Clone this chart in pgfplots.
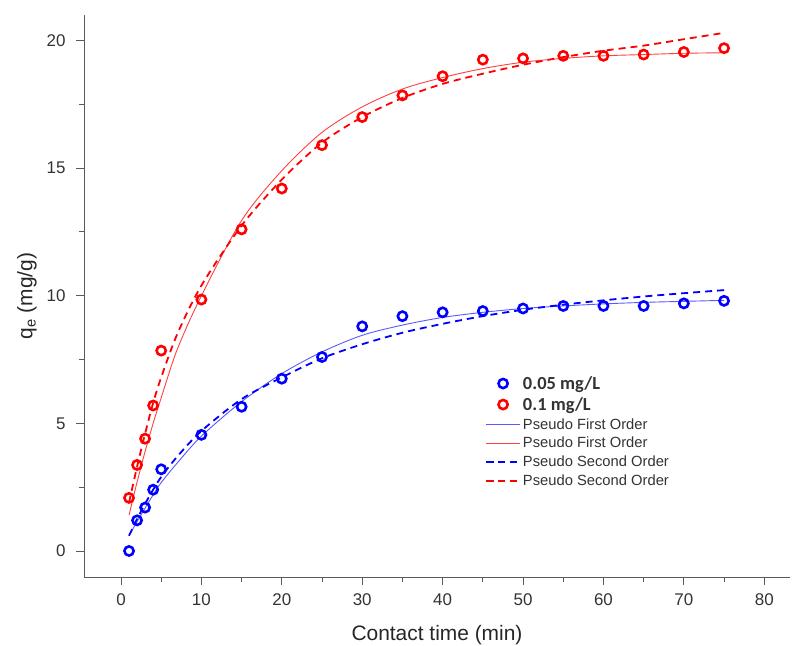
\documentclass[border=0pt]{standalone}
\usepackage{pgfplots}
\pgfplotsset{compat=1.18}
\usepackage{fontspec}
\setmainfont{Liberation Sans}
\newfontfamily\calib{Carlito}
\definecolor{pblue}{RGB}{0,0,255}
\definecolor{pred}{RGB}{255,0,0}
\begin{document}
\begin{tikzpicture}
\begin{axis}[
  name=ax,
  scale only axis, width=706bp, height=562bp,
  xmin=-4.6, xmax=83.2, ymin=-1.02, ymax=21.0,
  axis x line*=bottom, axis y line*=left,
  xtick={0,10,...,80}, minor x tick num=1,
  ytick={0,5,...,20}, minor y tick num=1,
  tick align=outside, major tick length=8bp, minor tick length=5bp,
  every tick/.style={black!65, line width=0.9bp},
  axis line style={black!65, line width=0.9bp},
  tick label style={font=\fontsize{17}{20}\selectfont, text=black!80},
  xticklabel style={yshift=-5bp},
  yticklabel style={xshift=-7bp},
  /pgf/number format/assume math mode=true,
  xlabel={Contact time (min)},
  ylabel={q\textsubscript{e} (mg/g)},
  label style={font=\fontsize{21}{24}\selectfont, text=black!85},
  xlabel style={yshift=-13bp},
  ylabel shift=3bp,
  legend style={draw=none, fill=none, inner sep=0pt, at={(0.568,0.361)}, anchor=north west,
    font=\fontsize{14.8}{17}\selectfont, row sep=2.6bp, text=black!80},
  legend cell align=left,
  legend image code/.code={\draw[mark repeat=2,mark phase=2] plot coordinates {(0bp,0bp) (17bp,0bp) (34bp,0bp)};},
  clip=false,
]
% data points
\addplot[only marks, mark=o, mark size=4.6bp, line width=2.6bp, color=pblue] coordinates {
(1,0.0) (2,1.2) (3,1.7) (4,2.4) (5,3.2) (10,4.55) (15,5.65) (20,6.75) (25,7.6) (30,8.8)
(35,9.2) (40,9.35) (45,9.4) (50,9.5) (55,9.6) (60,9.6) (65,9.6) (70,9.7) (75,9.8)};
\addlegendentry{\calib\bfseries\fontsize{18.5}{20}\selectfont 0.05 mg/L}
\addplot[only marks, mark=o, mark size=4.6bp, line width=2.6bp, color=pred] coordinates {
(1,2.08) (2,3.37) (3,4.4) (4,5.7) (5,7.85) (10,9.85) (15,12.6) (20,14.2) (25,15.9) (30,17.0)
(35,17.85) (40,18.6) (45,19.25) (50,19.3) (55,19.4) (60,19.4) (65,19.45) (70,19.55) (75,19.7)};
\addlegendentry{\calib\bfseries\fontsize{18.5}{20}\selectfont 0.1 mg/L}
% pseudo first order
\addplot[smooth, no marks, line width=0.9bp, color=pblue!65!white] coordinates {
(1,0.6) (2,1.15) (3,1.68) (4,2.2) (5,2.68) (7,3.45) (10,4.5) (15,5.85) (20,6.95) (25,7.8)
(30,8.45) (35,8.85) (40,9.15) (45,9.35) (50,9.5) (55,9.6) (60,9.68) (65,9.74) (70,9.78) (75,9.82)};
\addlegendentry{Pseudo First Order}
\addplot[smooth, no marks, line width=0.9bp, color=pred!75!white] coordinates {
(1,1.4) (2,2.7) (3,3.9) (4,5.0) (5,6.0) (7,7.9) (10,10.0) (15,12.95) (20,14.9) (25,16.4)
(30,17.4) (35,18.1) (40,18.55) (45,18.9) (50,19.15) (55,19.3) (60,19.4) (65,19.45) (70,19.5) (75,19.52)};
\addlegendentry{Pseudo First Order}
% pseudo second order
\addplot[smooth, no marks, line width=1.8bp, dash pattern=on 7bp off 5bp, color=pblue] coordinates {
(1,0.6) (2,1.25) (3,1.85) (4,2.4) (5,2.9) (7,3.7) (10,4.7) (15,5.95) (20,6.8) (25,7.55)
(30,8.1) (35,8.55) (40,8.9) (45,9.2) (50,9.45) (55,9.65) (60,9.82) (65,9.97) (70,10.1) (75,10.22)};
\addlegendentry{Pseudo Second Order}
\addplot[smooth, no marks, line width=1.8bp, dash pattern=on 7bp off 5bp, color=pred] coordinates {
(1,1.9) (2,3.3) (3,4.6) (4,5.8) (5,6.8) (7,8.5) (10,10.4) (15,12.75) (20,14.55) (25,16.0)
(30,17.0) (35,17.75) (40,18.3) (45,18.7) (50,19.05) (55,19.35) (60,19.6) (65,19.8) (70,20.05) (75,20.3)};
\addlegendentry{Pseudo Second Order}
\end{axis}
\pgfresetboundingbox
\path[use as bounding box] ([shift={(-84bp,-69bp)}]ax.south west) rectangle ([shift={(7bp,15bp)}]ax.north east);
\end{tikzpicture}
\end{document}
